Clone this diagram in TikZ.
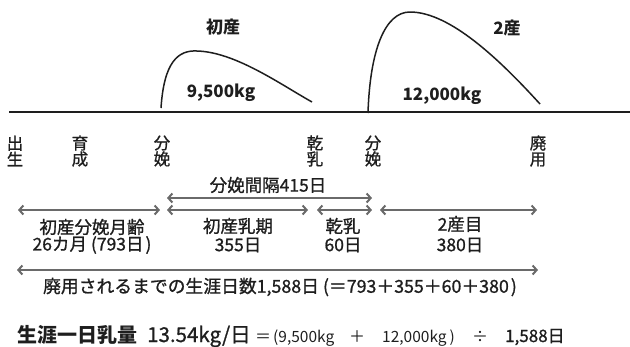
\documentclass[tikz,border=0pt]{standalone}
\usepackage{fontspec}
\setmainfont{Noto Sans CJK JP}
\newfontfamily\medfont{Noto Sans CJK JP}[FakeBold=1]
\usetikzlibrary{arrows.meta}
\definecolor{ink}{HTML}{1E1E1E}
\definecolor{arr}{HTML}{6A6A6A}
\begin{document}
\begin{tikzpicture}[x=1pt,y=-1pt,
  txt/.style={inner sep=0pt, text=ink, font=\medfont\fontsize{17.5}{18}\selectfont},
  vlab/.style={txt, align=center, font=\medfont\fontsize{16.5}{16}\selectfont},
  boldlab/.style={txt, font=\bfseries\fontsize{17}{18}\selectfont},
  barb/.tip={Straight Barb[length=4pt,width=9pt]},
  span/.style={draw=arr, line width=2pt, barb-barb},
  curve/.style={draw=ink, line width=1.5pt},
  axis/.style={draw=ink, line width=2.5pt}]
\useasboundingbox (0,0) rectangle (630,346);

% time axis
\coordinate (axL) at (9,112);
\coordinate (axR) at (630,112);
\draw[axis] (axL) -- (axR);

% lactation curves
\coordinate (c1s) at (161,108);
\coordinate (c1p) at (197,51);
\coordinate (c1e) at (312,102);
\draw[curve] (c1s) .. controls (164,62) and (178,50) .. (c1p)
  .. controls (235,52) and (280,84) .. (c1e);
\coordinate (c2s) at (368,113);
\coordinate (c2p) at (410,12);
\coordinate (c2e) at (540,104);
\draw[curve] (c2s) .. controls (370,50) and (385,12) .. (c2p)
  .. controls (450,12) and (500,60) .. (c2e);

\node[boldlab] (t1) at (223,27) {初産};
\node[boldlab] (t2) at (507,28) {2産};
\node[boldlab] (y1) at (221,93) {9,500kg};
\node[boldlab] (y2) at (442,96) {12,000kg};

% event labels
\node[vlab] (e1) at (15,151) {出\\生};
\node[vlab] (e2) at (80,151) {育\\成};
\node[vlab] (e3) at (162,151) {分\\娩};
\node[vlab] (e4) at (315,151) {乾\\乳};
\node[vlab] (e5) at (373,151) {分\\娩};
\node[vlab] (e6) at (538,151) {廃\\用};

% spans
\coordinate (s0a) at (167,198); \coordinate (s0b) at (372,198);
\coordinate (s1a) at (18,210);  \coordinate (s1b) at (160,210);
\coordinate (s2a) at (167,210); \coordinate (s2b) at (308,210);
\coordinate (s3a) at (317,210); \coordinate (s3b) at (372,210);
\coordinate (s4a) at (380,210); \coordinate (s4b) at (537,210);
\coordinate (s5a) at (17,270);  \coordinate (s5b) at (538,270);
\draw[span] (s0a) -- (s0b);
\draw[span] (s1a) -- (s1b);
\draw[span] (s2a) -- (s2b);
\draw[span] (s3a) -- (s3b);
\draw[span] (s4a) -- (s4b);
\draw[span] (s5a) -- (s5b);

\node[txt] (L0) at (268,185) {分娩間隔415日};
\node[txt] (L1a) at (92,227) {初産分娩月齢};
\node[txt] (L1b) at (92,245) {26カ月\hspace{4pt}(793日\hspace{2pt})};
\node[txt] (L2a) at (238,226) {初産乳期};
\node[txt] (L2b) at (238,245) {355日};
\node[txt] (L3a) at (343,226) {乾乳};
\node[txt] (L3b) at (343,245) {60日};
\node[txt] (L4a) at (460,224) {2産目};
\node[txt] (L4b) at (460,245) {380日};
\node[txt, font=\medfont\fontsize{17.8}{18}\selectfont] (L5) at (280,287) {廃用されるまでの生涯日数1,588日\hspace{4pt}(＝793＋355＋60＋380\hspace{2pt})};

% formula
\node[txt, anchor=base west, font=\bfseries\fontsize{20}{20}\selectfont] (f1) at (17,342) {生涯一日乳量};
\node[txt, anchor=base west, font=\medfont\fontsize{20.5}{20}\selectfont] (f2) at (147,342) {13.54kg/日};
\node[txt, anchor=base, font=\fontsize{16}{16}\selectfont] (f3) at (263,342) {＝};
\node[txt, anchor=base west, font=\fontsize{15.5}{15}\selectfont] (f4) at (273,342) {(9,500kg};
\node[txt, anchor=base, font=\fontsize{16}{16}\selectfont] (f5) at (357,342) {＋};
\node[txt, anchor=base west, font=\fontsize{15.5}{15}\selectfont] (f6) at (382,342) {12,000kg\hspace{3pt})};
\node[txt, anchor=base, font=\fontsize{16}{16}\selectfont] (f7) at (480,342) {÷};
\node[txt, anchor=base west, font=\medfont\fontsize{17}{17}\selectfont] (f8) at (505,342) {1,588日};
\end{tikzpicture}
\end{document}
